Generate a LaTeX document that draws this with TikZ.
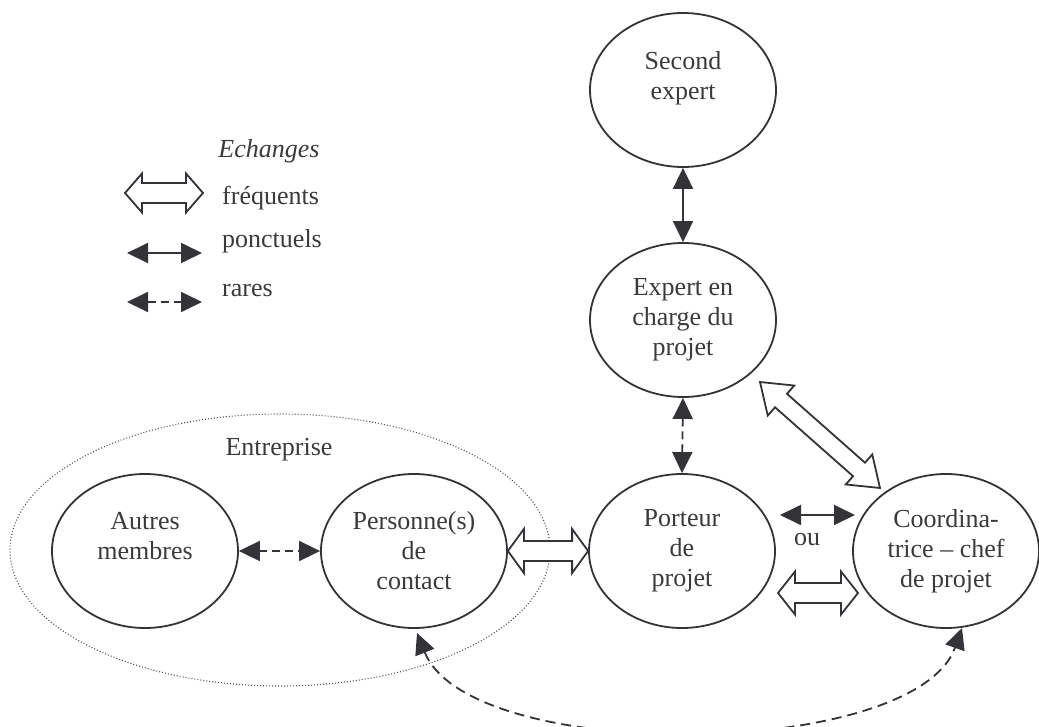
\documentclass[tikz,border=0pt]{standalone}
\usepackage{fontspec}
\setmainfont{Liberation Serif}
\usetikzlibrary{shapes.geometric,arrows.meta,calc}
\definecolor{linecol}{RGB}{51,51,56}
\definecolor{txtcol}{RGB}{58,58,60}
\definecolor{dotcol}{RGB}{80,80,85}
\newcommand\bodyfont{\fontsize{26}{30}\selectfont}
% hollow double arrow: from, to, head length, head half width, shaft half width
\newcommand\hollowarrow[5]{%
  \draw[hollowline] (#1)
    -- ($(#1)!#3!(#2) + (#1)!#4!90:(#2) - (#1)$)
    -- ($(#1)!#3!(#2) + (#1)!#5!90:(#2) - (#1)$)
    -- ($(#2)!#3!(#1) + (#1)!#5!90:(#2) - (#1)$)
    -- ($(#2)!#3!(#1) + (#1)!#4!90:(#2) - (#1)$)
    -- (#2)
    -- ($(#2)!#3!(#1) + (#1)!#4!-90:(#2) - (#1)$)
    -- ($(#2)!#3!(#1) + (#1)!#5!-90:(#2) - (#1)$)
    -- ($(#1)!#3!(#2) + (#1)!#5!-90:(#2) - (#1)$)
    -- ($(#1)!#3!(#2) + (#1)!#4!-90:(#2) - (#1)$)
    -- cycle;}
\begin{document}
\begin{tikzpicture}[x=1pt,y=-1pt,
  ell/.style={ellipse, draw=linecol, line width=1.8pt, minimum width=186pt,
    minimum height=154pt, inner sep=0pt, align=center, font=\bodyfont, text=txtcol},
  lbl/.style={font=\bodyfont, text=txtcol, inner sep=0pt},
  hollowline/.style={draw=linecol, line width=1.8pt, line join=miter, fill=white},
  ponc/.style={draw=linecol, line width=1.8pt,
    {Triangle[width=20pt,length=21pt]}-{Triangle[width=20pt,length=21pt]}},
  rare/.style={ponc, dash pattern=on 8pt off 5pt},
  rarecurve/.style={ponc, dash pattern=on 10pt off 6pt}]
\useasboundingbox (0,0) rectangle (1039,727);

% Enterprise dotted ellipse
\node[ellipse, draw=dotcol, line width=1.1pt, dash pattern=on 1pt off 2pt,
  minimum width=540pt, minimum height=272pt, inner sep=0pt] (entreprise) at (280,550) {};
\node[lbl, anchor=base] (entlbl) at (279,455) {Entreprise};

% main nodes
\node[ell] (second) at (683,90) {Second\\expert\\\mbox{}};
\node[ell] (expert) at (683,320) {Expert en\\charge du\\projet};
\node[ell] (port) at (682,551) {Porteur\\de\\projet};
\node[ell] (coord) at (946,551) {Coordina-\\trice -- chef\\de projet};
\node[ell] (pers) at (414,551) {Personne(s)\\de\\contact};
\node[ell] (autres) at (145,551) {Autres\\membres\\\mbox{}};

% connectors
\draw[ponc] (second.south) -- (expert.north);
\draw[rare] (expert.south) -- (port.north);
\draw[rare] (autres.east) -- (pers.west);
\hollowarrow{pers.east}{port.west}{16pt}{22pt}{10pt}

\coordinate (expdiag) at (760,382);
\coordinate (coorddiag) at (880,488);
\hollowarrow{expdiag}{coorddiag}{28pt}{20pt}{9pt}

\coordinate (pcA) at (780,515);
\coordinate (pcB) at (855,515);
\draw[ponc] (pcA) -- (pcB);
\node[lbl, anchor=base] (ou) at (807,545) {ou};

\coordinate (pcC) at (778,593);
\coordinate (pcD) at (858,593);
\hollowarrow{pcC}{pcD}{17pt}{21.5pt}{10pt}

\coordinate (curveA) at (417,633);
\coordinate (curveB) at (962,628);
\draw[rarecurve] (curveA) .. controls (470,765) and (915,760) .. (curveB);

% legend
\node[lbl, anchor=base, font=\bodyfont\itshape] (echanges) at (269,158) {Echanges};
\coordinate (lgA1) at (125,193);
\coordinate (lgA2) at (203,193);
\hollowarrow{lgA1}{lgA2}{17pt}{19.5pt}{10pt}
\node[lbl, anchor=base west] (freq) at (222,205) {fréquents};
\coordinate (lgB1) at (127,253);
\coordinate (lgB2) at (202,253);
\draw[ponc] (lgB1) -- (lgB2);
\node[lbl, anchor=base west] (ponct) at (222,248) {ponctuels};
\coordinate (lgC1) at (127,302);
\coordinate (lgC2) at (202,302);
\draw[rare] (lgC1) -- (lgC2);
\node[lbl, anchor=base west] (rares) at (222,297) {rares};
\end{tikzpicture}
\end{document}
